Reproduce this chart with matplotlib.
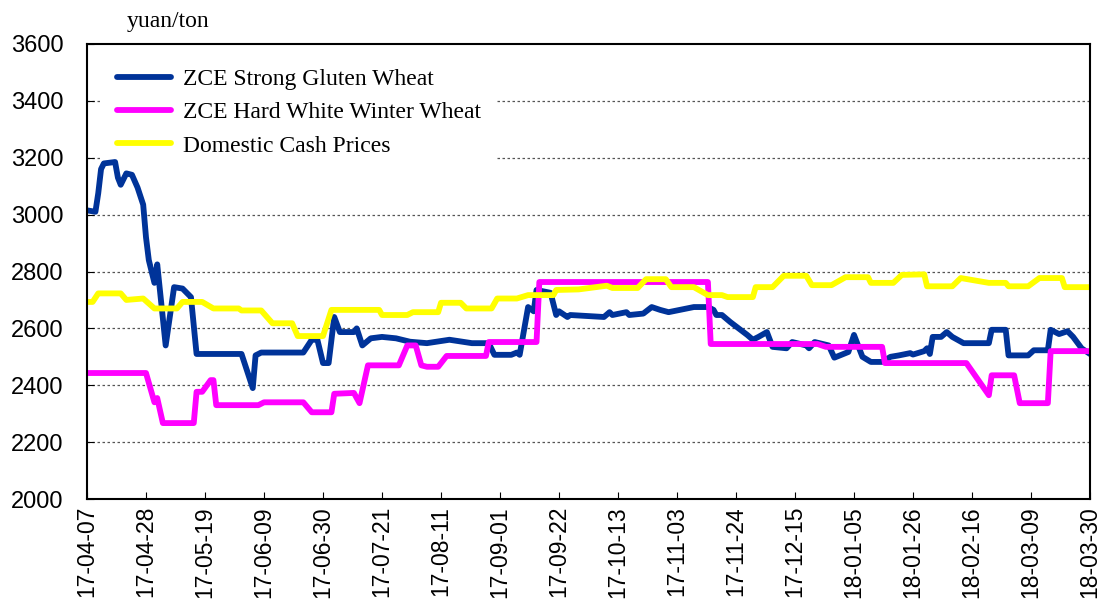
import matplotlib
matplotlib.use("Agg")
import matplotlib.pyplot as plt
import matplotlib.dates as mdates
import pandas as pd

start = pd.Timestamp("2017-04-07")
tick_days = list(range(0, 358, 21))

# ZCE Strong Gluten Wheat (days since 2017-04-07, yuan/ton)
gluten_days = [0, 3, 4, 5, 6, 10, 11, 12, 14, 16, 18, 20, 21, 22, 24, 25, 28, 31, 34, 37,
               39, 55, 59, 60, 62, 77, 80, 82, 84, 86, 88, 90, 95, 96, 98, 101, 105, 110,
               115, 121, 129, 137, 143, 145, 151, 153, 154, 157, 159, 160, 165, 167, 168,
               171, 172, 184, 186, 187, 192, 193, 198, 201, 204, 207, 211, 216, 221, 223,
               224, 226, 229, 235, 237, 239, 242, 244, 249, 251, 256, 257, 259, 264, 266,
               271, 273, 276, 279, 283, 286, 289, 293, 294, 298, 299, 300, 301, 304, 306,
               308, 312, 321, 322, 327, 328, 335, 337, 342, 343, 346, 349, 351, 354, 357]
gluten_vals = [3015, 3010, 3075, 3160, 3180, 3185, 3130, 3105, 3145, 3140, 3095, 3035, 2920,
               2840, 2760, 2825, 2540, 2745, 2740, 2710, 2510, 2510, 2390, 2505, 2515, 2515,
               2560, 2560, 2478, 2478, 2640, 2587, 2587, 2600, 2540, 2565, 2570, 2565, 2553,
               2548, 2560, 2548, 2548, 2507, 2507, 2515, 2507, 2675, 2660, 2735, 2725, 2647,
               2660, 2640, 2647, 2640, 2657, 2647, 2657, 2647, 2652, 2675, 2665, 2657, 2665,
               2675, 2675, 2665, 2647, 2647, 2622, 2577, 2560, 2570, 2587, 2535, 2530, 2552,
               2540, 2530, 2552, 2540, 2497, 2517, 2577, 2500, 2482, 2482, 2500, 2505, 2513,
               2508, 2520, 2530, 2510, 2570, 2570, 2587, 2570, 2548, 2548, 2595, 2595, 2505,
               2505, 2523, 2523, 2595, 2580, 2590, 2570, 2530, 2510]

# ZCE Hard White Winter Wheat
hard_days = [0, 21, 24, 25, 27, 38, 39, 41, 44, 45, 46, 61, 63, 77, 80, 87, 88, 95, 97, 100,
             111, 114, 117, 119, 121, 125, 128, 142, 143, 160, 161, 221, 222, 260, 263, 283,
             284, 313, 321, 322, 330, 332, 342, 343, 357]
hard_vals = [2443, 2443, 2340, 2355, 2267, 2267, 2377, 2377, 2418, 2418, 2330, 2330, 2340,
             2340, 2305, 2305, 2370, 2373, 2337, 2470, 2470, 2540, 2540, 2470, 2465, 2465,
             2503, 2503, 2552, 2552, 2763, 2763, 2545, 2545, 2535, 2535, 2478, 2478, 2365,
             2435, 2435, 2337, 2337, 2520, 2520]

# Domestic Cash Prices
cash_days = [0, 2, 4, 12, 14, 20, 24, 32, 34, 41, 45, 54, 55, 62, 66, 73, 75, 84, 87, 104,
             105, 114, 116, 125, 126, 133, 135, 144, 146, 153, 157, 166, 167, 175, 185, 187,
             196, 199, 206, 208, 216, 221, 226, 228, 237, 238, 244, 248, 256, 258, 265, 270,
             278, 279, 287, 290, 298, 299, 308, 311, 321, 327, 328, 335, 339, 347, 348, 357]
cash_vals = [2693, 2693, 2723, 2723, 2700, 2705, 2670, 2670, 2693, 2693, 2670, 2670, 2663,
             2663, 2618, 2618, 2573, 2573, 2665, 2665, 2647, 2647, 2657, 2657, 2690, 2690,
             2670, 2670, 2705, 2705, 2717, 2717, 2735, 2737, 2750, 2742, 2742, 2773, 2773,
             2745, 2745, 2717, 2717, 2710, 2710, 2745, 2745, 2785, 2785, 2752, 2752, 2780,
             2780, 2760, 2760, 2788, 2790, 2748, 2748, 2777, 2760, 2760, 2748, 2748, 2777,
             2777, 2745, 2745]


def to_dates(days):
    return start + pd.to_timedelta(days, unit="D")


fig = plt.figure(figsize=(11.04, 6.08), dpi=100)
ax = fig.add_axes([87 / 1104, 1 - 499 / 608, 1003 / 1104, 455 / 608])

line_kw = dict(lw=4.2, solid_joinstyle="round", solid_capstyle="round", zorder=3)
ax.plot(to_dates(gluten_days), gluten_vals, color="#003399",
        label="ZCE Strong Gluten Wheat", **line_kw)
ax.plot(to_dates(hard_days), hard_vals, color="#FF00FF",
        label="ZCE Hard White Winter Wheat", **line_kw)
ax.plot(to_dates(cash_days), cash_vals, color="#FFFF00",
        label="Domestic Cash Prices", **line_kw)

ax.set_ylim(2000, 3600)
ax.set_yticks(range(2000, 3601, 200))
ax.set_xlim(to_dates([0])[0], to_dates([357])[0])
ax.set_xticks(to_dates(tick_days))
ax.xaxis.set_major_formatter(mdates.DateFormatter("%y-%m-%d"))

for y in range(2200, 3401, 200):
    ax.axhline(y, color="#555555", lw=0.9, ls=(0, (2, 2)), zorder=0.5)

ax.tick_params(axis="both", direction="in", length=5, width=0.8, colors="black")
ax.tick_params(axis="y", labelsize=17, pad=17)
ax.tick_params(axis="x", labelsize=16.5, pad=5, labelrotation=90)
for lab in ax.get_xticklabels() + ax.get_yticklabels():
    lab.set_family("Liberation Sans")
for s in ax.spines.values():
    s.set_linewidth(1.5)
    s.set_zorder(4)

fig.text(127 / 1104, 1 - 22 / 608, "yuan/ton", family="Liberation Serif",
         fontsize=17, va="center", ha="left")

leg = ax.legend(loc="upper left", bbox_to_anchor=(13 / 1003, 1 - 8 / 455),
                prop={"family": "Liberation Serif", "size": 17}, frameon=True,
                fancybox=False, edgecolor="none", facecolor="white", framealpha=1,
                handlelength=2.3, handletextpad=0.5, labelspacing=0.5,
                borderaxespad=0, borderpad=0.7)
leg.set_zorder(1)

fig.savefig("out.png", dpi=100)
